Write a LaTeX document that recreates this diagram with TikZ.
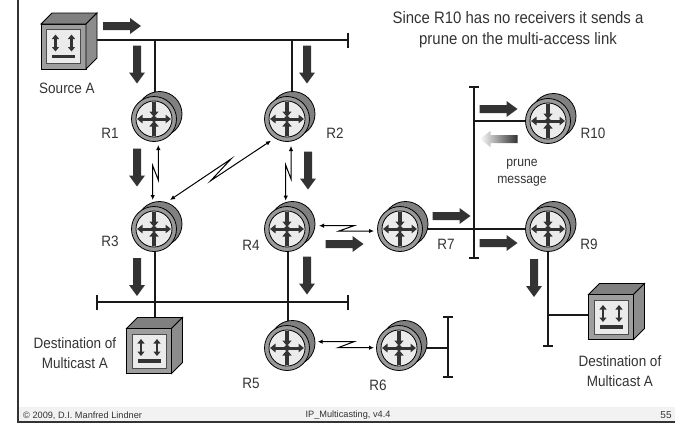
\documentclass[tikz,border=0pt]{standalone}
\usepackage{fontspec}
\setmainfont[FakeStretch=0.9]{Liberation Sans}
\newfontfamily\footfont{Liberation Sans}
\usepackage{xcolor}
\usetikzlibrary{arrows.meta,calc,positioning,backgrounds}
\definecolor{dark}{HTML}{333333}
\begin{document}
\begin{tikzpicture}[x=1pt,y=-1pt,
  rt/.style={circle,draw=black,line width=0.8pt,fill=black!40,minimum size=45pt,inner sep=0pt},
  srv/.style={rectangle,draw=black,line width=0.8pt,fill=black!38,minimum size=45pt,inner sep=0pt},
  bus/.style={line width=1.8pt,draw=black!90},
  stem/.style={line width=2.6pt,draw=black!90},
  link/.style={line width=1pt,{Latex[length=5pt,width=4.5pt]}-{Latex[length=5pt,width=4.5pt]}},
  lbl/.style={font=\fontsize{15}{20}\selectfont,text=dark,align=center,inner sep=0pt},
  foot/.style={font=\footfont\fontsize{9.2}{10}\selectfont,text=dark,inner sep=0pt},
  blk/.pic={\path[pic actions] (-19,-4) -- (8,-4) -- (8,-8) -- (19,0) -- (8,8) -- (8,4) -- (-19,4) -- cycle;},
  rtback/.pic={\draw[line width=0.8pt,fill=black!50] (5.5,-5) circle (22.5);},
  rtface/.pic={
    \draw[line width=0.8pt,fill=black!8] (0,0) circle (18);
    \foreach \s in {1,-1}{
      \draw[line width=3pt,dark,-{Stealth[length=5.5pt,width=8.5pt,inset=0pt]}] (0,0) -- (\s*17,0);
      \draw[line width=4.2pt,dark,-{Stealth[length=5.5pt,width=9pt,inset=0pt]}] (0,\s*17) -- (0,\s*2);
    }
    \fill[dark] (0,0) circle (3);
  },
  srvface/.pic={
    \draw[line width=0.8pt,fill=black!50] (-22.5,-22.5) -- (-11.5,-33.5) -- (33.5,-33.5) -- (22.5,-22.5) -- cycle;
    \draw[line width=0.8pt,fill=black!45] (22.5,-22.5) -- (33.5,-33.5) -- (33.5,11.5) -- (22.5,22.5) -- cycle;
    \draw[line width=0.8pt,draw=black!70,fill=black!8] (-17,-17) rectangle (17,17);
    \foreach \s in {-8,8}
      \draw[line width=2.8pt,dark,{Stealth[length=4.5pt,width=7pt,inset=0pt]}-{Stealth[length=4.5pt,width=7pt,inset=0pt]}] (\s,-12) -- (\s,5);
    \fill[dark] (-11.5,8) rectangle (11.5,11.5);
  }]
  \useasboundingbox (0,0) rectangle (675,423);
  % routers
  \foreach \r/\x/\y in {R1/154/119,R2/287/119,R3/154/229,R4/287/229,R5/287/348,
                        R6/399/348,R7/400/229,R9/548/229,R10/548/121}{
    \pic at (\x,\y) {rtback};
    \node[rt] (\r) at (\x,\y) {};
    \pic at (\x,\y) {rtface};
  }
  % end systems
  \foreach \h/\x/\y in {srcA/63.5/46.5,dstL/149/351,dstR/611/317}{
    \node[srv] (\h) at (\x,\y) {};
    \pic at (\x,\y) {srvface};
  }
  % bus ends
  \coordinate (busAr) at (349,40);
  \coordinate (busBl) at (96,302);
  \coordinate (busBr) at (349,302);
  \coordinate (busCt) at (474,86);
  \coordinate (busCb) at (474,259);
  \coordinate (busDb) at (548,347);
  \coordinate (busEt) at (448,316);
  \coordinate (busEb) at (448,378);
  \begin{pgfonlayer}{background}
    \fill[black!5] (18,407) rectangle (675,422);
    \draw[line width=1.5pt,dark] (18,0) -- (18,422) -- (675,422);
    \draw[bus,-{Bar[width=15pt]}] (srcA.east |- busAr) -- (busAr);
    \draw[bus,{Bar[width=15pt]}-{Bar[width=15pt]}] (busBl) -- (busBr);
    \draw[bus,{Bar[width=10pt]}-{Bar[width=10pt]}] (busCt) -- (busCb);
    \draw[bus,-{Bar[width=10pt]}] (R9) -- (busDb);
    \draw[bus,{Bar[width=10pt]}-{Bar[width=10pt]}] (busEt) -- (busEb);
    \draw[stem] ([xshift=1pt]R1.center) -- ([xshift=1pt]R1.center |- busAr);
    \draw[stem] ([xshift=5pt]R2.center) -- ([xshift=5pt]R2.center |- busAr);
    \draw[stem] ([xshift=1pt]R3.center) -- ([xshift=1pt]R3.center |- dstL.north);
    \draw[stem] ([xshift=1pt]R4.center) -- ([xshift=1pt]R5.center);
    \draw[stem] (R7) -- (R9);
    \draw[stem] (R10) -- (R10 -| busCt);
    \draw[stem] (R6) -- (R6 -| busEt);
    \draw[stem] ([yshift=2pt]dstR.west) -- ([yshift=2pt]dstR.west -| R9);
  \end{pgfonlayer}
  % serial links
  \draw[link] ($(R1)+(4.3,26)$) -- ++(0,35) -- ++(-5.6,-14.3) -- ($(R3)+(-1.3,-29)$);
  \draw[link] ($(R3)+(16,-29)$) -- ++(61,-41) -- ++(-20.3,21.7) -- ($(R2)+(-16,21.7)$);
  \draw[link] ($(R2)+(4,27)$) -- ++(0,33) -- ++(-5.3,-14) -- ($(R4)+(-1.3,-28.3)$);
  \draw[link] ($(R4)+(32,-3.3)$) -- ++(35,0) -- ++(-15,5.3) -- ($(R7)+(-26,2)$);
  \draw[link] ($(R5)+(30.7,-6.3)$) -- ++(36.3,0) -- ++(-16,6) -- ($(R6)+(-25,-0.3)$);
  % traffic arrows
  \foreach \x/\y/\a in {122/26/0,137/64.5/-90,307/64.5/-90,137/167.5/-90,308/170.5/-90,
      137/277/-90,307/275.5/-90,344.5/244/0,451.5/216/0,498.5/109/0,498.5/243/0,534/278/-90}
    \pic[rotate=\a,fill=dark] at (\x,\y) {blk};
  \pic[rotate=180,left color=white,right color=dark] at (498.5,139) {blk};
  % labels
  \foreach \t/\x/\y/\n in {R1/110/133/tR1,R2/335/133/tR2,R3/110/241/tR3,R4/251/245/tR4,R5/251/383/tR5,
      R6/378/385/tR6,R7/446/244/tR7,R9/589/244/tR9,R10/593/133/tR10,Source A/67/88/tSrc}
    \node[lbl] (\n) at (\x,\y) {\t};
  \node[lbl] (tDstL) at (75,353) {Destination of\\Multicast A};
  \node[lbl] (tDstR) at (620,371) {Destination of\\Multicast A};
  \node[lbl,font=\fontsize{13.5}{17}\selectfont] (tPrune) at (522,173) {prune\\message};
  \node[lbl,font=\fontsize{16.6}{21}\selectfont] (tTitle) at (518,30) {Since R10 has no receivers it sends a\\prune on the multi-access link};
  \node[foot,anchor=west] (tCopy) at (23,415.5) {© 2009, D.I. Manfred Lindner};
  \node[foot] (tFile) at (348,415.5) {IP\_Multicasting, v4.4};
  \node[foot,font=\footfont\fontsize{10}{11}\selectfont] (tPage) at (666,415.5) {55};
\end{tikzpicture}
\end{document}
